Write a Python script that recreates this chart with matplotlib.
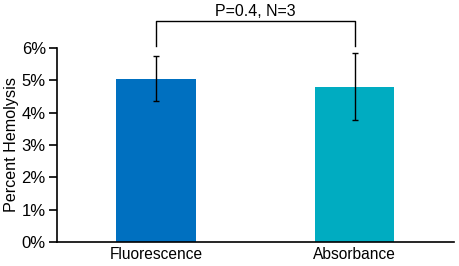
import matplotlib
matplotlib.use("Agg")
import matplotlib.pyplot as plt
from matplotlib.ticker import PercentFormatter

plt.rcParams['font.family'] = ['Liberation Sans', 'DejaVu Sans']

# Data
categories = ["Fluorescence", "Absorbance"]
hemolysis = [5.05, 4.80]
errors = [0.70, 1.03]
bar_colors = ["#0070C0", "#00ACC1"]
annotation = "P=0.4, N=3"

fig = plt.figure(figsize=(4.59, 2.66), dpi=100)
ax = fig.add_axes([0.124, 0.090, 0.865, 0.730])

x = list(range(len(categories)))
ax.bar(x, hemolysis, width=0.4, color=bar_colors)
ax.errorbar(x, hemolysis, yerr=errors, fmt='none', ecolor='black',
            elinewidth=1, capsize=2.5, capthick=1)

ax.set_xlim(-0.5, 1.5)
ax.set_ylim(0, 6)
ax.set_yticks(range(0, 7))
ax.yaxis.set_major_formatter(PercentFormatter(decimals=0))
ax.set_xticks(x)
ax.set_xticklabels(categories)
ax.tick_params(axis='x', length=0, labelsize=11.2, pad=3.5)
ax.tick_params(axis='y', length=6, width=1.2, labelsize=12, pad=2)
ax.set_ylabel("Percent Hemolysis", fontsize=11.6, labelpad=2)

for side in ["top", "right"]:
    ax.spines[side].set_visible(False)
ax.spines["left"].set_linewidth(1.2)
ax.spines["bottom"].set_linewidth(1.2)

# significance bracket
y_low, y_high = 6.05, 6.84
ax.plot([x[0], x[0], x[1], x[1]], [y_low, y_high, y_high, y_low],
        color='black', linewidth=1, clip_on=False)
ax.text((x[0] + x[1]) / 2, y_high + 0.05, annotation, ha='center',
        va='bottom', fontsize=11.5)

fig.savefig("out.png", dpi=100)
